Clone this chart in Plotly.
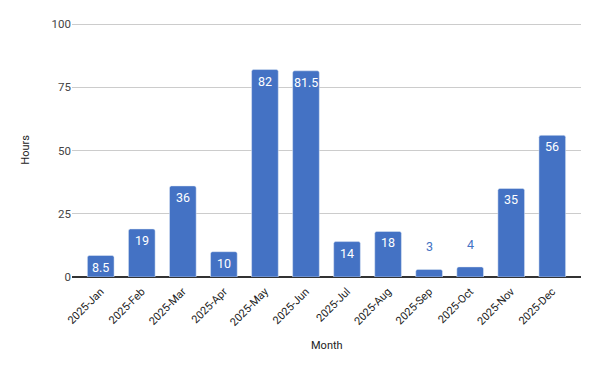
import plotly.graph_objects as go

months = ["2025-Jan", "2025-Feb", "2025-Mar", "2025-Apr", "2025-May", "2025-Jun",
          "2025-Jul", "2025-Aug", "2025-Sep", "2025-Oct", "2025-Nov", "2025-Dec"]
hours = [8.5, 19, 36, 10, 82, 81.5, 14, 18, 3, 4, 35, 56]
y_ticks = [0, 25, 50, 75, 100]

BLUE = "#4472C4"
inside_min = 6

fig = go.Figure()
fig.add_trace(go.Bar(
    x=months, y=hours,
    marker=dict(color=BLUE, cornerradius=2),
    hoverinfo="x+y",
))

for m, v in zip(months, hours):
    if v >= inside_min:
        fig.add_annotation(x=m, y=v, text=str(v), showarrow=False,
                           yanchor="top", yshift=-2,
                           font=dict(color="white", size=12.5, family="Roboto"))
    else:
        fig.add_annotation(x=m, y=v, text=str(v), showarrow=False,
                           yanchor="bottom", yshift=13,
                           font=dict(color=BLUE, size=12.5, family="Roboto"))

fig.add_annotation(xref="paper", yref="paper", x=0.5, y=-0.238, yanchor="top",
                   text="Month", showarrow=False,
                   font=dict(size=11, color="#222222", family="Roboto"))
fig.add_annotation(xref="paper", yref="paper", x=-0.093, y=0.5, xanchor="center",
                   text="Hours", showarrow=False, textangle=-90,
                   font=dict(size=11, color="#222222", family="Roboto"))

fig.update_layout(
    width=600, height=371,
    margin=dict(l=72, r=19, t=23, b=94),
    paper_bgcolor="white", plot_bgcolor="white",
    bargap=0.35,
    showlegend=False,
    font=dict(family="Roboto", size=11, color="#444444"),
    xaxis=dict(
        automargin=False,
        tickangle=-45, range=[-0.7, 11.7],
        showgrid=False, ticks="", tickfont=dict(size=11, color="#222222"),
        ticklabelstandoff=5,
        showline=False, zeroline=False,
    ),
    yaxis=dict(
        automargin=False,
        range=[0, 100.4], tickvals=y_ticks, ticks="",
        showgrid=True, gridcolor="#cccccc", gridwidth=1,
        zeroline=True, zerolinecolor="#333333", zerolinewidth=1.5,
        tickfont=dict(size=11.5, color="#444444"),
    ),
)

fig.write_html("out.html", config={"displayModeBar": False},
               post_script="document.body.style.margin='0';document.body.style.overflow='hidden';")
